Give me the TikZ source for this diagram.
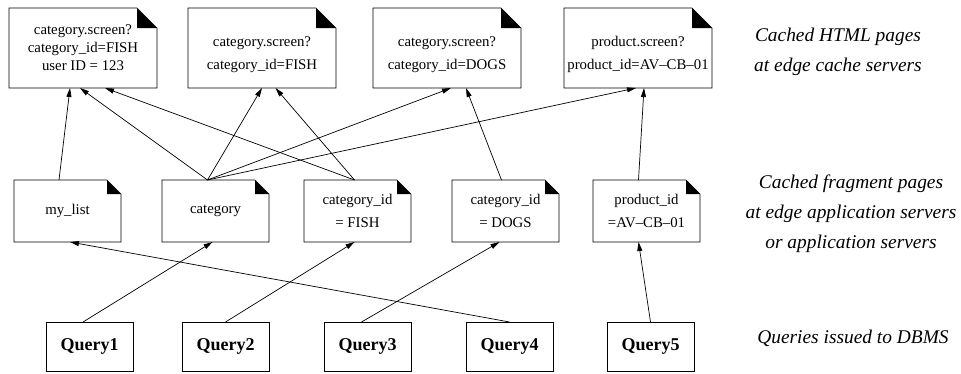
\documentclass[tikz,border=0pt]{standalone}
\usepackage{fontspec}
\setmainfont{Liberation Serif}
\usetikzlibrary{positioning, arrows.meta}
\tikzset{%
  every page/.style={
    minimum width=148pt,
    minimum height=80pt,
    inner sep=1pt,
    outer sep=0pt,
    align=center,
    font=\fontsize{14.8}{18}\selectfont
  },
  every fragment/.style={
    minimum width=107pt,
    minimum height=62pt,
    inner sep=1pt,
    outer sep=0pt,
    align=center,
    font=\fontsize{14.8}{18}\selectfont
  },
  every query/.style={
    draw,
    line width=1pt,
    minimum width=87pt,
    minimum height=49pt,
    outer sep=0pt,
    font=\bfseries\fontsize{18}{22}\selectfont
  },
  every caption/.style={
    align=center,
    font=\itshape\fontsize{19.4}{30}\selectfont
  }
}

\begin{document}
\begin{tikzpicture}[x=1pt, y=-1pt, line width=0.7pt, >={Triangle[length=9pt, width=5pt]}]
		\useasboundingbox (0,0) rectangle (961,373);
		%% cached html pages
		\node[every page] (p1) at (83,48) {category.screen?\\category\_id=FISH\\user ID = 123};
		\node[every page, right=31pt of p1] (p2) {\rule{0pt}{24pt}category.screen?\\[5pt]category\_id=FISH};
		\node[every page, right=37pt of p2] (p3) {\rule{0pt}{24pt}category.screen?\\[5pt]category\_id=DOGS};
		\node[every page, right=43pt of p3] (p4) {\rule{0pt}{24pt}product.screen?\\[5pt]product\_id=AV--CB--01};
		%% cached fragment pages
		\node[every fragment] (m1) at (67.5,211) {my\_list};
		\node[every fragment, right=41pt of m1] (m2) {category};
		\node[every fragment, right=35pt of m2] (m3) {category\_id\\[5pt]= FISH};
		\node[every fragment, right=41pt of m3] (m4) {category\_id\\[5pt]= DOGS};
		\node[every fragment, right=34pt of m4] (m5) {product\_id\\[5pt]=AV--CB--01};
		%% queries
		\node[every query] (q1) at (89.5,346.5) {Query1};
		\node[every query, right=49pt of q1] (q2) {Query2};
		\node[every query, right=55pt of q2] (q3) {Query3};
		\node[every query, right=55pt of q3] (q4) {Query4};
		\node[every query, right=54pt of q4] (q5) {Query5};
		%% description
		\node[every caption] (hl) at (838,52) {Cached HTML pages\\at edge cache servers};
		\node[every caption] (fl) at (851,214) {Cached fragment pages\\at edge application servers\\or application servers};
		\node[every caption] (ql) at (853,338) {Queries issued to DBMS};
		%% folded corners
		\foreach \n/\f in {p1/20,p2/20,p3/20,p4/20,m1/14,m2/14,m3/14,m4/14,m5/14} {
			\draw (\n.south west) -- (\n.north west) -- ([xshift=-\f pt]\n.north east)
				-- ([yshift=-\f pt]\n.north east) -- (\n.south east) -- cycle;
			\fill ([xshift=-\f pt]\n.north east) -- ([xshift=-\f pt, yshift=-\f pt]\n.north east)
				-- ([yshift=-\f pt]\n.north east) -- cycle;
		}
		%% fragment to page connections
		\path [->] ([xshift=-8.5pt]m1.north) edge ([xshift=-13pt]p1.south);
		% category
		\path [->] ([xshift=-8pt]m2.north) edge ([xshift=-3pt]p1.south);
		\path [->] ([xshift=-8pt]m2.north) edge (p2.south);
		\path [->] ([xshift=-8pt]m2.north) edge ([xshift=4pt]p3.south);
		\path [->] ([xshift=-8pt]m2.north) edge ([xshift=-2pt]p4.south);
		% category_id
		\path [->] ([xshift=-3pt]m3.north) edge ([xshift=22pt]p1.south);
		\path [->] ([xshift=-3pt]m3.north) edge ([xshift=13.5pt]p2.south);
		\path [->] ([xshift=-4pt]m4.north) edge ([xshift=19pt]p3.south);
		% product_id
		\path [->] ([xshift=-8pt]m5.north) edge ([xshift=6pt]p4.south);
		%% query to fragment connections
		\path [->] ([xshift=-6.5pt]q1.north) edge ([xshift=-3pt]m2.south);
		\path [->] (q2.north) edge ([xshift=-3pt]m3.south);
		\path [->] ([xshift=-6pt]q3.north) edge ([xshift=-6pt]m4.south);
		\path [->] (q4.north) edge ([xshift=2.5pt]m1.south);
		\path [->] (q5.north) edge ([xshift=-8pt]m5.south);
	\end{tikzpicture}
\end{document}
